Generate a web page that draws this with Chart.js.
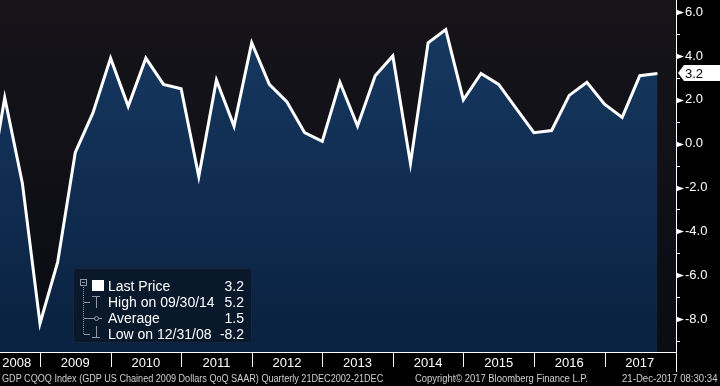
<!DOCTYPE html>
<html>
<head>
<meta charset="utf-8">
<script src="https://cdn.jsdelivr.net/npm/chart.js@4.4.1/dist/chart.umd.min.js"></script>
<style>
html, body { margin: 0; padding: 0; background: #000; }
#wrap { position: relative; width: 720px; height: 386px; overflow: hidden; font-family: "Liberation Sans", Arial, sans-serif; }
#chart { position: absolute; left: 0; top: 0; }
#legend { position: absolute; left: 73px; top: 268px; width: 179px; height: 75px; background: #0a182b; border: 1px solid #16263d; border-radius: 4px; box-sizing: border-box; color: #fff; font-size: 14px; }
#legend .row { position: absolute; left: 34px; right: 7px; height: 16px; line-height: 16px; }
#legend .row span { position: absolute; right: 0; top: 0; }
#legend .ic { position: absolute; background: #8e98a6; }
.foot { position: absolute; top: 372px; font-size: 10px; line-height: 13px; color: #cfcfcf; white-space: nowrap; transform-origin: 0 0; }
</style>
</head>
<body>
<div id="wrap">
  <canvas id="chart" width="720" height="386"></canvas>
  <div id="legend">
    <!-- tree and icons -->
    <div class="ic" style="left:6px;top:10px;width:7px;height:7px;background:none;border:1px solid #8e98a6;box-sizing:border-box"></div>
    <div class="ic" style="left:8px;top:13px;width:3px;height:1px"></div>
    <div class="ic" style="left:9px;top:18px;width:1px;height:47px;background:none;border-left:1px dotted #8e98a6"></div>
    <div class="ic" style="left:18px;top:11px;width:12px;height:11px;background:#fff"></div>
    <div class="ic" style="left:10px;top:33px;width:6px;height:1px"></div>
    <div class="ic" style="left:18px;top:27px;width:8px;height:1px"></div>
    <div class="ic" style="left:22px;top:27px;width:1px;height:12px"></div>
    <div class="ic" style="left:10px;top:49px;width:18px;height:1px"></div>
    <div class="ic" style="left:20px;top:47px;width:5px;height:5px;border-radius:3px;background:#0a182b;border:1px solid #8e98a6;box-sizing:border-box"></div>
    <div class="ic" style="left:10px;top:65px;width:6px;height:1px"></div>
    <div class="ic" style="left:22px;top:57px;width:1px;height:12px"></div>
    <div class="ic" style="left:18px;top:68px;width:8px;height:1px"></div>
    <div class="row" style="top:9px">Last Price<span>3.2</span></div>
    <div class="row" style="top:25px">High on 09/30/14<span>5.2</span></div>
    <div class="row" style="top:41px">Average<span>1.5</span></div>
    <div class="row" style="top:57px">Low on 12/31/08<span>-8.2</span></div>
  </div>
  <div class="foot" id="f1" style="left:2px" data-w="381">GDP CQOQ Index (GDP US Chained 2009 Dollars QoQ SAAR)  Quarterly 21DEC2002-21DEC</div>
  <div class="foot" id="f2" style="left:415px" data-w="173">Copyright© 2017 Bloomberg Finance L.P.</div>
  <div class="foot" id="f3" style="left:622px" data-w="96">21-Dec-2017 08:30:34</div>
</div>
<script>
// quarterly GDP, QoQ SAAR (%)
const quarters = [
    '2008 Q1', '2008 Q2', '2008 Q3', '2008 Q4',
    '2009 Q1', '2009 Q2', '2009 Q3', '2009 Q4',
    '2010 Q1', '2010 Q2', '2010 Q3', '2010 Q4',
    '2011 Q1', '2011 Q2', '2011 Q3', '2011 Q4',
    '2012 Q1', '2012 Q2', '2012 Q3', '2012 Q4',
    '2013 Q1', '2013 Q2', '2013 Q3', '2013 Q4',
    '2014 Q1', '2014 Q2', '2014 Q3', '2014 Q4',
    '2015 Q1', '2015 Q2', '2015 Q3', '2015 Q4',
    '2016 Q1', '2016 Q2', '2016 Q3', '2016 Q4',
    '2017 Q1', '2017 Q2', '2017 Q3'
];
const gdpQoq = [
    -2.7, 2.1, -1.8, -8.2,
    -5.4, -0.4, 1.4, 3.9,
    1.7, 3.9, 2.7, 2.5,
    -1.5, 2.9, 0.8, 4.6,
    2.7, 1.9, 0.5, 0.1,
    2.8, 0.8, 3.1, 4.0,
    -0.9, 4.6, 5.2, 2.0,
    3.2, 2.7, 1.6, 0.5,
    0.6, 2.2, 2.8, 1.8,
    1.2, 3.1, 3.2
];
const yearLabels = ['2008', '2009', '2010', '2011', '2012', '2013', '2014', '2015', '2016', '2017'];
const yTicks = [-9, -8, -7, -6, -5, -4, -3, -2, -1, 0, 1, 2, 3, 4, 5, 6];
const lastValue = 3.2;

// quarter end as decimal year
const toX = q => {
    const [y, n] = q.split(' Q');
    return +y + (+n) / 4;
};
const points = quarters.map((q, i) => ({ x: toX(q), y: gdpQoq[i] }));

/* ── background, axis marks, last value tag ── */
const decorPlugin = {
    id: 'decor',
    beforeDraw(chart) {
        const { ctx, chartArea: a } = chart;
        ctx.save();
        ctx.fillStyle = '#000';
        ctx.fillRect(0, 0, chart.width, chart.height);
        const g = ctx.createLinearGradient(0, a.top, 0, a.bottom);
        g.addColorStop(0, '#161419');
        g.addColorStop(1, '#0a0c13');
        ctx.fillStyle = g;
        ctx.fillRect(a.left, a.top, a.right - a.left, a.bottom - a.top);
        ctx.restore();
    },
    afterDraw(chart) {
        const { ctx, chartArea: a, scales } = chart;
        const xs = scales.x, ys = scales.y;
        ctx.save();
        ctx.strokeStyle = '#fff';
        ctx.fillStyle = '#fff';
        ctx.lineWidth = 1;
        // axis lines
        ctx.beginPath();
        ctx.moveTo(0, a.bottom + 0.5);
        ctx.lineTo(a.right, a.bottom + 0.5);
        ctx.moveTo(a.right + 0.5, 0);
        ctx.lineTo(a.right + 0.5, a.bottom + 20);
        ctx.stroke();
        // year separators
        for (let yr = 2009; yr <= 2017; yr++) {
            const px = Math.round(xs.getPixelForValue(yr)) + 0.5;
            ctx.beginPath();
            ctx.moveTo(px, a.bottom);
            ctx.lineTo(px, a.bottom + 15);
            ctx.stroke();
        }
        // y tick marks
        yTicks.forEach(v => {
            const py = Math.round(ys.getPixelForValue(v)) + 0.5;
            if (v % 2 === 0) {
                ctx.beginPath();
                ctx.moveTo(a.right, py - 3);
                ctx.lineTo(a.right + 8, py);
                ctx.lineTo(a.right, py + 3);
                ctx.closePath();
                ctx.fill();
            } else {
                ctx.beginPath();
                ctx.moveTo(a.right, py);
                ctx.lineTo(a.right + 4, py);
                ctx.stroke();
            }
        });
        // last value tag
        const ly = Math.round(ys.getPixelForValue(lastValue));
        ctx.beginPath();
        ctx.moveTo(a.right + 2, ly);
        ctx.lineTo(a.right + 8, ly - 8);
        ctx.lineTo(chart.width, ly - 8);
        ctx.lineTo(chart.width, ly + 8);
        ctx.lineTo(a.right + 8, ly + 8);
        ctx.closePath();
        ctx.fill();
        ctx.fillStyle = '#000';
        ctx.font = '13px "Liberation Sans", Arial, sans-serif';
        ctx.textBaseline = 'middle';
        ctx.fillText(lastValue.toFixed(1), a.right + 9, ly + 1);
        ctx.restore();
    }
};

const ctx = document.getElementById('chart').getContext('2d');
new Chart(ctx, {
    type: 'line',
    data: {
        datasets: [{
            data: points,
            borderColor: '#ffffff',
            borderWidth: 3,
            pointRadius: 0,
            tension: 0,
            fill: 'start',
            backgroundColor: (c) => {
                const a = c.chart.chartArea;
                if (!a) return '#10294a';
                const g = c.chart.ctx.createLinearGradient(0, a.top, 0, a.bottom);
                g.addColorStop(0, '#173a63');
                g.addColorStop(1, '#0a2140');
                return g;
            }
        }]
    },
    plugins: [decorPlugin],
    options: {
        responsive: false,
        animation: false,
        layout: { padding: 0 },
        plugins: { legend: { display: false }, tooltip: { enabled: false } },
        scales: {
            x: {
                type: 'linear',
                min: 2008.433,
                max: 2018.013,
                afterBuildTicks(s) {
                    s.ticks = yearLabels.map((y, i) => ({ value: i === 0 ? 2008.67 : +y + 0.5 }));
                },
                afterFit(s) {
                    s.height = 34;
                    s.paddingLeft = 0;
                    s.paddingRight = 0;
                },
                ticks: {
                    color: '#fff',
                    autoSkip: false,
                    maxRotation: 0,
                    padding: 4,
                    font: { family: 'Liberation Sans', size: 13 },
                    callback: (v, i) => yearLabels[i]
                },
                grid: { display: false, drawTicks: false },
                border: { display: false }
            },
            y: {
                position: 'right',
                min: -9.5,
                max: 6.55,
                afterBuildTicks(s) {
                    s.ticks = yTicks.map(v => ({ value: v }));
                },
                afterFit(s) {
                    s.width = 44;
                    s.paddingTop = 0;
                    s.paddingBottom = 0;
                },
                ticks: {
                    autoSkip: false,
                    color: '#fff',
                    padding: 9,
                    font: { family: 'Liberation Sans', size: 13 },
                    callback: (v) => (v % 2 === 0) ? v.toFixed(1) : ''
                },
                grid: { display: false, drawTicks: false },
                border: { display: false }
            }
        }
    }
});

// squeeze footer text to the widths in the picture
document.querySelectorAll('.foot').forEach(el => {
    const w = +el.dataset.w;
    el.style.transform = `scaleX(${w / el.offsetWidth})`;
});
</script>
</body>
</html>
